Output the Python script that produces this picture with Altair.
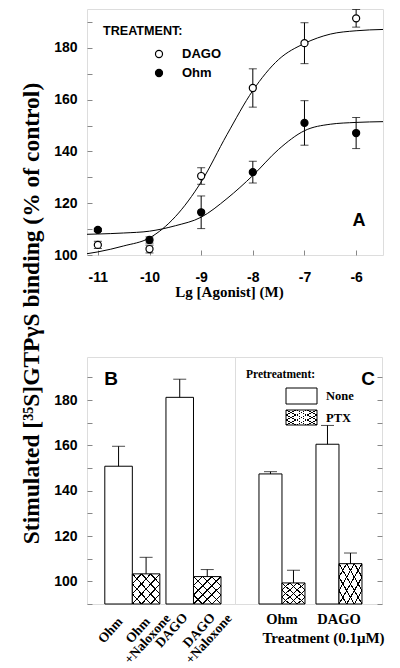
import altair as alt
import pandas as pd

# ---------------- Panel A : concentration-response ----------------
log_conc = [-11, -10, -9, -8, -7, -6]
dago_mean = [103.9, 102.3, 130.5, 164.5, 181.8, 191.4]
dago_sem = [1.4, 1.5, 3.2, 7.4, 7.9, 3.4]
ohm_mean = [109.7, 105.8, 116.5, 132.0, 151.0, 147.1]
ohm_sem = [0.6, 1.2, 6.3, 4.2, 8.6, 6.0]

# fitted curves
fit_x = [-11.21, -11.0, -10.5, -10.0, -9.5, -9.0, -8.5, -8.0, -7.5, -7.0, -6.5, -6.0, -5.48]
dago_fit = [100.5, 101.2, 103.5, 106.6, 114.8, 128.2, 146.5, 163.5, 175.5, 181.7, 185.3, 186.6, 187.1]
ohm_fit = [108.0, 108.1, 108.5, 109.2, 111.3, 114.6, 121.8, 130.7, 140.8, 148.0, 150.5, 151.2, 151.5]

# ---------------- Panel B : naloxone ----------------
b_agonist = ["Ohm", "Ohm", "DAGO", "DAGO"]
b_condition = ["Alone", "+Naloxone", "Alone", "+Naloxone"]
b_label = ["Ohm", "Ohm\n+Naloxone", "DAGO", "DAGO\n+Naloxone"]
b_mean = [150.8, 103.3, 181.2, 102.1]
b_sem = [8.8, 7.3, 8.0, 3.1]

# ---------------- Panel C : PTX pretreatment ----------------
c_agonist = ["Ohm", "Ohm", "DAGO", "DAGO"]
c_pretreat = ["None", "PTX", "None", "PTX"]
c_mean = [147.4, 99.3, 160.5, 107.8]
c_sem = [1.0, 5.6, 8.3, 4.7]

SANS = "Liberation Sans"
SERIF = "Liberation Serif"
INK = "black"
CLEAR = "rgba(0,0,0,0)"


def hatch(direction):
    n, d = 6, 0.013
    stops = []
    for k in range(n + 1):
        c = k / n
        a, b = max(0.0, c - d), min(1.0, c + d)
        stops += [alt.GradientStop(color=CLEAR, offset=a), alt.GradientStop(color=INK, offset=a),
                  alt.GradientStop(color=INK, offset=b), alt.GradientStop(color=CLEAR, offset=b)]
    if direction == 1:
        x1, y1, x2, y2 = 0, 0, 1, 1
    else:
        x1, y1, x2, y2 = 1, 0, 0, 1
    return alt.LinearGradient(gradient="linear", stops=stops, x1=x1, y1=y1, x2=x2, y2=y2)


one = pd.DataFrame({"k": [0]})

# ---------------- Panel A ----------------
pts = pd.DataFrame({
    "x": log_conc * 2,
    "y": dago_mean + ohm_mean,
    "lo": [m - s for m, s in zip(dago_mean, dago_sem)] + [m - s for m, s in zip(ohm_mean, ohm_sem)],
    "hi": [m + s for m, s in zip(dago_mean, dago_sem)] + [m + s for m, s in zip(ohm_mean, ohm_sem)],
    "series": ["DAGO"] * 6 + ["Ohm"] * 6,
})
fits = pd.DataFrame({
    "x": fit_x * 2,
    "y": dago_fit + ohm_fit,
    "series": ["DAGO"] * len(fit_x) + ["Ohm"] * len(fit_x),
})

ax_ax = alt.Axis(values=log_conc, labelExpr="'-' + format(abs(datum.value), 'd')",
                 offset=-5, tickSize=5, labelPadding=15, domain=False, grid=False,
                 labelFont=SANS, labelFontWeight="bold", labelFontSize=14, labelFlush=False,
                 title="Lg [Agonist] (M)", titleFont=SERIF, titleFontWeight="bold",
                 titleFontSize=15, titlePadding=0, titleX=142)
ay_ax = alt.Axis(values=list(range(100, 191, 10)),
                 labelExpr="datum.value % 20 == 0 ? datum.label : ''",
                 offset=-5, tickSize=5, labelPadding=10, domain=False, grid=False,
                 labelFont=SANS, labelFontWeight="bold", labelFontSize=14, title=None)
xA = alt.X("x:Q", scale=alt.Scale(domain=[-11.21, -5.48], nice=False, zero=False), axis=ax_ax)
yA = alt.Y("y:Q", scale=alt.Scale(domain=[100, 195], nice=False, zero=False), axis=ay_ax)

curves = alt.Chart(fits).mark_line(color=INK, strokeWidth=1, interpolate="monotone").encode(
    x=xA, y=yA, detail="series:N")
ebar = alt.Chart(pts).mark_rule(color=INK, strokeWidth=1).encode(x=xA, y=alt.Y("lo:Q", axis=ay_ax), y2="hi:Q")
cap_lo = alt.Chart(pts).mark_tick(orient="horizontal", size=8, thickness=1, color=INK).encode(
    x=xA, y=alt.Y("lo:Q", axis=ay_ax))
cap_hi = alt.Chart(pts).mark_tick(orient="horizontal", size=8, thickness=1, color=INK).encode(
    x=xA, y=alt.Y("hi:Q", axis=ay_ax))
dots = alt.Chart(pts).mark_point(shape="circle", filled=True, size=50, stroke=INK,
                                 strokeWidth=1.2, opacity=1).encode(
    x=xA, y=yA,
    fill=alt.Fill("series:N", scale=alt.Scale(domain=["DAGO", "Ohm"], range=["white", "black"]),
                  legend=None))

leg_title = alt.Chart(one).mark_text(text="TREATMENT:", align="left", baseline="middle", font=SANS,
                                     fontWeight="bold", fontSize=12.6).encode(
    x=alt.value(16), y=alt.value(22))
leg_d_sym = alt.Chart(one).mark_point(shape="circle", filled=True, fill="white", stroke=INK,
                                      strokeWidth=1.2, size=50, opacity=1).encode(
    x=alt.value(72), y=alt.value(45))
leg_o_sym = alt.Chart(one).mark_point(shape="circle", filled=True, fill="black", stroke=INK,
                                      strokeWidth=1.2, size=50, opacity=1).encode(
    x=alt.value(72), y=alt.value(64))
leg_d_txt = alt.Chart(one).mark_text(text="DAGO", align="left", baseline="middle", font=SANS,
                                     fontWeight="bold", fontSize=13).encode(
    x=alt.value(95), y=alt.value(45))
leg_o_txt = alt.Chart(one).mark_text(text="Ohm", align="left", baseline="middle", font=SANS,
                                     fontWeight="bold", fontSize=13).encode(
    x=alt.value(95), y=alt.value(64))
tag_a = alt.Chart(one).mark_text(text="A", align="center", baseline="middle", font=SANS,
                                 fontWeight="bold", fontSize=18).encode(
    x=alt.value(272), y=alt.value(212))

panel_a = alt.layer(curves, ebar, cap_lo, cap_hi, dots, leg_title, leg_d_sym, leg_o_sym,
                    leg_d_txt, leg_o_txt, tag_a).properties(width=296, height=246)

# ---------------- Panel B ----------------
dfb = pd.DataFrame({"agonist": b_agonist, "condition": b_condition, "label": b_label,
                    "mean": b_mean, "top": [m + s for m, s in zip(b_mean, b_sem)]})
ybar_ax = alt.Axis(values=list(range(90, 191, 10)),
                   labelExpr="datum.value % 20 == 0 ? datum.label : ''",
                   offset=-5, tickSize=5, labelPadding=10, domain=False, grid=False,
                   labelFont=SANS, labelFontWeight="bold", labelFontSize=14,
                   title="Stimulated [\u00b3\u2075S]GTP\u03b3S binding (% of control)",
                   titleFont=SERIF, titleFontWeight="bold", titleFontSize=23.5,
                   titleAngle=270, titleAlign="center", titleBaseline="alphabetic",
                   titleX=-54, titleY=-44, titleLimit=2000)
ybar_scale = alt.Scale(domain=[90, 199], nice=False, zero=False)

xB = alt.X("agonist:N", scale=alt.Scale(domain=["Ohm", "DAGO"], paddingInner=0.1,
                                        paddingOuter=0.26, align=0.56), axis=None)
xoB = alt.XOffset("condition:N", scale=alt.Scale(domain=["Alone", "+Naloxone"],
                                                 paddingInner=0, paddingOuter=0))
yB = alt.Y("mean:Q", scale=ybar_scale, axis=ybar_ax)

baseB = alt.Chart(dfb)
barsB = baseB.mark_bar(fill="white", stroke=INK, strokeWidth=1).encode(
    x=xB, xOffset=xoB, y=yB, y2=alt.datum(90))
h1B = baseB.transform_filter(alt.datum.condition == "+Naloxone").mark_bar(
    fill=hatch(1), strokeWidth=0).encode(x=xB, xOffset=xoB, y=yB, y2=alt.datum(90))
h2B = baseB.transform_filter(alt.datum.condition == "+Naloxone").mark_bar(
    fill=hatch(2), strokeWidth=0).encode(x=xB, xOffset=xoB, y=yB, y2=alt.datum(90))
errB = baseB.mark_rule(color=INK, strokeWidth=1).encode(x=xB, xOffset=xoB, y=yB, y2="top:Q")
capB = baseB.mark_tick(orient="horizontal", size=13, thickness=1, color=INK).encode(
    x=xB, xOffset=xoB, y=alt.Y("top:Q", scale=ybar_scale, axis=ybar_ax))
labB = baseB.mark_text(angle=312, align="center", baseline="middle", lineBreak="\n", font=SERIF,
                       fontWeight="bold", fontSize=13.5, lineHeight=13, dx=-5.7, dy=-5.7).encode(
    x=xB, xOffset=xoB, y=alt.value(273), text="label:N")
tag_b = alt.Chart(one).mark_text(text="B", align="center", baseline="middle", font=SANS,
                                 fontWeight="bold", fontSize=19).encode(
    x=alt.value(24), y=alt.value(22))

panel_b = alt.layer(barsB, h1B, h2B, errB, capB, labB, tag_b).properties(width=148, height=247)

# ---------------- Panel C ----------------
dfc = pd.DataFrame({"agonist": c_agonist, "pretreat": c_pretreat,
                    "mean": c_mean, "top": [m + s for m, s in zip(c_mean, c_sem)]})
xC = alt.X("agonist:N", scale=alt.Scale(domain=["Ohm", "DAGO"], paddingInner=0.193,
                                        paddingOuter=0.386, align=0.545),
           axis=alt.Axis(ticks=False, domain=False, labelAngle=0, labelPadding=8,
                         labelFont=SERIF, labelFontWeight="bold", labelFontSize=14.5,
                         title="Treatment (0.1\u03bcM)", titleFont=SERIF, titleFontWeight="bold",
                         titleFontSize=15, titleX=88, titlePadding=5))
xoC = alt.XOffset("pretreat:N", scale=alt.Scale(domain=["None", "PTX"],
                                                paddingInner=0, paddingOuter=0))
yc_ax = alt.Axis(orient="right", values=list(range(90, 191, 10)), labels=False,
                 domain=False, grid=False, tickSize=5, offset=-5, title=None)
yC = alt.Y("mean:Q", scale=ybar_scale, axis=yc_ax)

baseC = alt.Chart(dfc)
barsC = baseC.mark_bar(fill="white", stroke=INK, strokeWidth=1).encode(
    x=xC, xOffset=xoC, y=yC, y2=alt.datum(90))
h1C = baseC.transform_filter(alt.datum.pretreat == "PTX").mark_bar(
    fill=hatch(1), strokeWidth=0).encode(x=xC, xOffset=xoC, y=yC, y2=alt.datum(90))
h2C = baseC.transform_filter(alt.datum.pretreat == "PTX").mark_bar(
    fill=hatch(2), strokeWidth=0).encode(x=xC, xOffset=xoC, y=yC, y2=alt.datum(90))
errC = baseC.mark_rule(color=INK, strokeWidth=1).encode(x=xC, xOffset=xoC, y=yC, y2="top:Q")
capC = baseC.mark_tick(orient="horizontal", size=13, thickness=1, color=INK).encode(
    x=xC, xOffset=xoC, y=alt.Y("top:Q", scale=ybar_scale, axis=yc_ax))

pre_title = alt.Chart(one).mark_text(text="Pretreatment:", align="left", baseline="middle",
                                     font=SERIF, fontWeight="bold", fontSize=11.5).encode(
    x=alt.value(11), y=alt.value(18))
box_none = alt.Chart(one).mark_rect(fill="white", stroke=INK, strokeWidth=1).encode(
    x=alt.value(51), x2=alt.value(82), y=alt.value(31), y2=alt.value(47))
box_ptx = alt.Chart(one).mark_rect(fill="white", stroke=INK, strokeWidth=1).encode(
    x=alt.value(51), x2=alt.value(82), y=alt.value(53), y2=alt.value(68))
box_ptx1 = alt.Chart(one).mark_rect(fill=hatch(1), strokeWidth=0).encode(
    x=alt.value(51), x2=alt.value(82), y=alt.value(53), y2=alt.value(68))
box_ptx2 = alt.Chart(one).mark_rect(fill=hatch(2), strokeWidth=0).encode(
    x=alt.value(51), x2=alt.value(82), y=alt.value(53), y2=alt.value(68))
txt_none = alt.Chart(one).mark_text(text="None", align="left", baseline="middle", font=SERIF,
                                    fontWeight="bold", fontSize=12.5).encode(
    x=alt.value(91), y=alt.value(39))
txt_ptx = alt.Chart(one).mark_text(text="PTX", align="left", baseline="middle", font=SERIF,
                                   fontWeight="bold", fontSize=12.5).encode(
    x=alt.value(91), y=alt.value(61))
tag_c = alt.Chart(one).mark_text(text="C", align="center", baseline="middle", font=SANS,
                                 fontWeight="bold", fontSize=19).encode(
    x=alt.value(133), y=alt.value(22))

panel_c = alt.layer(barsC, h1C, h2C, errC, capC, pre_title, box_none, box_ptx, box_ptx1,
                    box_ptx2, txt_none, txt_ptx, tag_c).properties(width=147, height=247)

bottom = alt.hconcat(panel_b, panel_c, spacing=0, bounds="flush").resolve_scale(
    x="independent", xOffset="independent", y="independent"
).resolve_axis(x="independent", y="independent")

chart = alt.vconcat(panel_a, bottom, spacing=102, bounds="flush").resolve_scale(
    x="independent", xOffset="independent", y="independent", fill="independent"
).resolve_axis(x="independent", y="independent").properties(
    padding={"left": 10, "top": 0, "right": 5, "bottom": 0}
).configure_view(stroke=INK, strokeWidth=1).configure_axis(
    labelColor=INK, tickColor=INK, titleColor=INK, domainColor=INK, labelOverlap=False
).configure(background="white")

chart.save("out.html", embed_options={"renderer": "svg", "actions": False})
